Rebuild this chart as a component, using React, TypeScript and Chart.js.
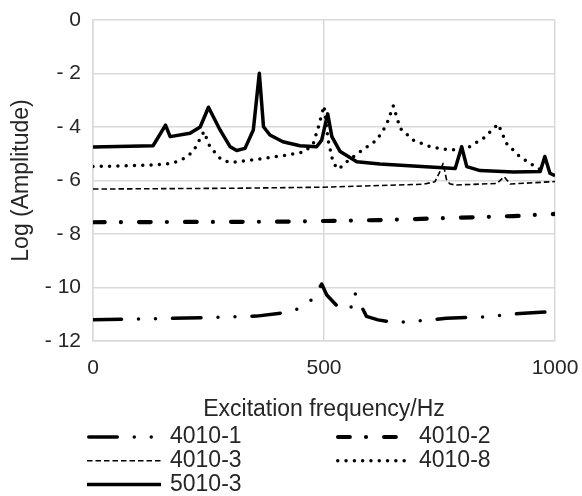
import { useEffect, useRef } from "react";
import { Chart, registerables } from "chart.js";

Chart.register(...registerables);

// ---- data ----
const seriesNames = ["4010-1", "4010-2", "4010-3", "4010-8", "5010-3"];

const freq4010_1 = [0, 246, 354, 419, 448, 477, 495, 506, 531, 558, 566, 576, 592, 617, 650, 686, 765, 856, 924, 1000];
const amp4010_1 = [-11.21, -11.13, -11.07, -10.93, -10.78, -10.41, -9.87, -10.28, -10.74, -10.78, -10.18, -10.53, -11.08, -11.21, -11.3, -11.28, -11.15, -11.09, -10.97, -10.9];

const freq4010_2 = [0, 405, 621, 909, 1000];
const amp4010_2 = [-7.56, -7.54, -7.48, -7.33, -7.25];

const freq4010_3 = [0, 300, 500, 714, 740, 750, 758, 765, 772, 784, 874, 890, 903, 1000];
const amp4010_3 = [-6.32, -6.29, -6.25, -6.14, -6.05, -5.7, -5.36, -5.95, -6.12, -6.17, -6.11, -5.86, -6.13, -6.04];

const freq4010_8 = [0, 130, 170, 192, 217, 240, 253, 278, 297, 347, 419, 459, 477, 488, 500, 509, 520, 532, 545, 571, 614, 635, 650, 665, 693, 730, 773, 809, 845, 877, 895, 924, 957, 970];
const amp4010_8 = [-5.48, -5.42, -5.36, -5.23, -4.92, -4.17, -4.74, -5.23, -5.33, -5.23, -5.05, -4.92, -4.61, -3.99, -3.21, -4.49, -5.36, -5.58, -5.36, -5.01, -4.49, -3.93, -3.21, -4.05, -4.49, -4.74, -4.86, -4.8, -4.42, -3.89, -4.61, -5.11, -5.48, -5.6];

const freq5010_3 = [0, 130, 157, 167, 210, 232, 250, 275, 297, 311, 329, 347, 360, 369, 383, 411, 448, 484, 495, 508, 517, 535, 571, 621, 693, 784, 798, 809, 838, 910, 968, 978, 989, 1000];
const amp5010_3 = [-4.75, -4.7, -3.93, -4.36, -4.23, -4.0, -3.26, -4.11, -4.74, -4.88, -4.8, -4.11, -1.99, -3.99, -4.3, -4.55, -4.7, -4.74, -4.49, -3.51, -4.36, -4.92, -5.3, -5.38, -5.46, -5.55, -4.74, -5.48, -5.63, -5.68, -5.66, -5.1, -5.73, -5.82];

const xTickValues = [0, 500, 1000];
const yTickValues = [0, -2, -4, -6, -8, -10, -12];
const yTickLabels = ["0", "- 2", "- 4", "- 6", "- 8", "- 10", "- 12"];

const xTitle = "Excitation frequency/Hz";
const yTitle = "Log (Amplitude)";

// ---- style ----
const FONT = '"Liberation Sans", Arial, sans-serif';
const TEXT = "#262626";
const GRID = "#d9d9d9";

function pts(xs: number[], ys: number[]) {
  return xs.map((x, i) => ({ x, y: ys[i] }));
}

function zeroPadding(scale: any) {
  scale.paddingLeft = 0;
  scale.paddingRight = 0;
  scale.paddingTop = 0;
  scale.paddingBottom = 0;
}

export default function App() {
  const ref = useRef<HTMLCanvasElement>(null);

  useEffect(() => {
    const canvas = ref.current;
    if (!canvas) return;

    const legendPlugin = {
      id: "columnLegend",
      afterDraw(chart: any) {
        const ctx = chart.ctx as CanvasRenderingContext2D;
        chart.data.datasets.forEach((ds: any, i: number) => {
          const col = i % 2;
          const row = Math.floor(i / 2);
          const x0 = col === 0 ? 87 : 336;
          const y = 437 + row * 23.7;
          ctx.save();
          ctx.strokeStyle = ds.borderColor;
          ctx.lineWidth = ds.borderWidth;
          ctx.lineCap = ds.borderCapStyle || "butt";
          ctx.setLineDash(ds.borderDash || []);
          const inset = ds.borderCapStyle === "round" ? ds.borderWidth / 2 : 0;
          ctx.beginPath();
          ctx.moveTo(x0 + inset, y);
          ctx.lineTo(x0 + 74 - inset, y);
          ctx.stroke();
          ctx.setLineDash([]);
          ctx.fillStyle = TEXT;
          ctx.font = `23px ${FONT}`;
          ctx.textBaseline = "middle";
          ctx.textAlign = "left";
          ctx.fillText(ds.label, x0 + 83, y);
          ctx.restore();
        });
      },
    };

    const common = {
      borderColor: "#000000",
      pointRadius: 0,
      pointHoverRadius: 0,
      tension: 0,
      fill: false,
      borderJoinStyle: "round",
    };

    const chart = new Chart(canvas, {
      type: "line",
      data: {
        datasets: [
          { ...common, label: seriesNames[0], data: pts(freq4010_1, amp4010_1), borderWidth: 3.5, borderCapStyle: "round", borderDash: [28.5, 17, 0, 17, 0, 17] },
          { ...common, label: seriesNames[1], data: pts(freq4010_2, amp4010_2), borderWidth: 4.2, borderCapStyle: "round", borderDash: [11.7, 16.2, 0, 18.1] },
          { ...common, label: seriesNames[2], data: pts(freq4010_3, amp4010_3), borderWidth: 1.6, borderCapStyle: "butt", borderDash: [5.5, 3] },
          { ...common, label: seriesNames[3], data: pts(freq4010_8, amp4010_8), borderWidth: 3.5, borderCapStyle: "round", borderDash: [0, 8.3] },
          { ...common, label: seriesNames[4], data: pts(freq5010_3, amp5010_3), borderWidth: 3.5, borderCapStyle: "butt", borderDash: [] },
        ] as any,
      },
      options: {
        responsive: false,
        animation: false,
        events: [],
        layout: { padding: { left: 0, right: 27, top: 20, bottom: 70 } },
        plugins: {
          legend: { display: false },
          tooltip: { enabled: false },
        },
        scales: {
          x: {
            type: "linear",
            min: 0,
            max: 1000,
            afterBuildTicks: (scale: any) => {
              scale.ticks = xTickValues.map((v) => ({ value: v }));
            },
            afterFit: (scale: any) => {
              scale.height = 85;
              zeroPadding(scale);
            },
            ticks: {
              font: { family: FONT, size: 21 },
              color: TEXT,
              padding: 15,
              maxRotation: 0,
              callback: (v: any) => String(v),
            },
            grid: { color: GRID, lineWidth: 1.5, drawTicks: false },
            border: { color: GRID, width: 1.5 },
            title: {
              display: true,
              text: xTitle,
              font: { family: FONT, size: 23 },
              color: TEXT,
              padding: { top: 0, bottom: 3 },
            },
          },
          y: {
            type: "linear",
            min: -12,
            max: 0,
            afterBuildTicks: (scale: any) => {
              scale.ticks = yTickValues.map((v) => ({ value: v }));
            },
            afterFit: (scale: any) => {
              scale.width = 93;
              zeroPadding(scale);
            },
            ticks: {
              font: { family: FONT, size: 21 },
              color: TEXT,
              padding: 12,
              callback: (v: any) => {
                const idx = yTickValues.indexOf(Number(v));
                return idx >= 0 ? yTickLabels[idx] : "";
              },
            },
            grid: { color: GRID, lineWidth: 1.5, drawTicks: false },
            border: { color: GRID, width: 1.5 },
            title: {
              display: true,
              text: yTitle,
              font: { family: FONT, size: 23 },
              color: TEXT,
              padding: { top: 8, bottom: 0 },
            },
          },
        },
      } as any,
      plugins: [legendPlugin],
    });

    return () => {
      chart.destroy();
    };
  }, []);

  return (
    <div style={{ position: "fixed", left: 0, top: 0, width: 582, height: 496, background: "#ffffff" }}>
      <canvas ref={ref} width={582} height={496} style={{ display: "block" }} />
    </div>
  );
}
